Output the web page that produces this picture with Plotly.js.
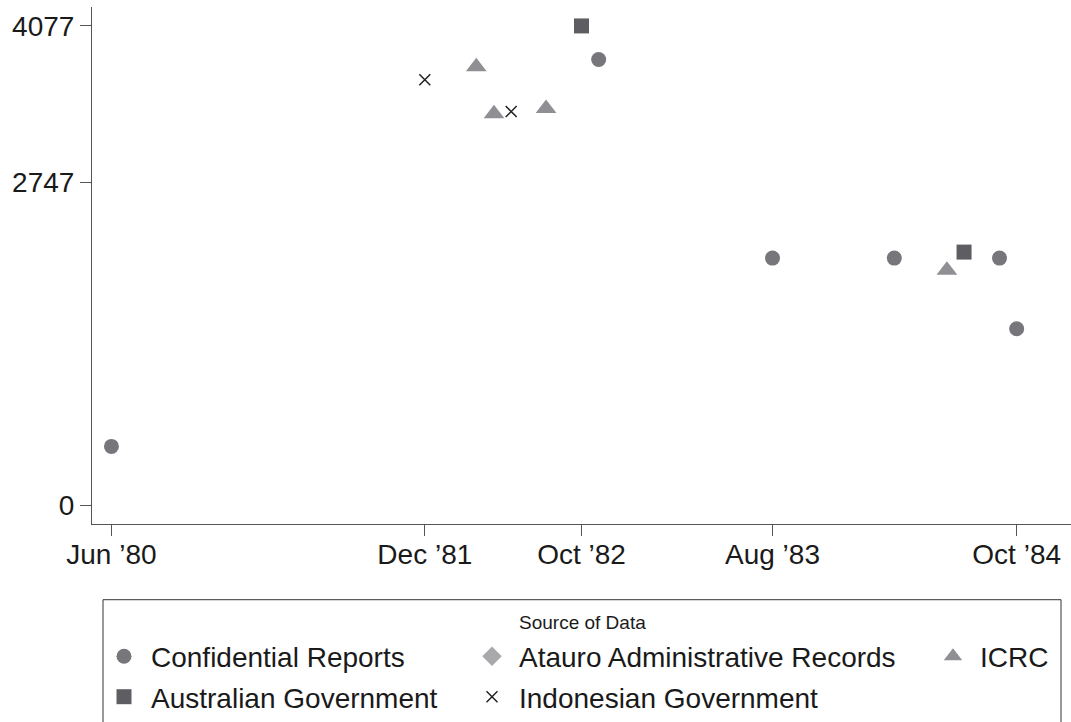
<!DOCTYPE html>
<html>
<head>
<meta charset="utf-8">
<script src="https://cdn.plot.ly/plotly-3.0.1.min.js"></script>
<style>html,body{margin:0;padding:0;background:#fff;}#chart{width:1071px;height:722px;}</style>
</head>
<body>
<div id="chart"></div>
<script>
// ---- data ----
const confDates = ['1980-06-15','1982-10-15','1983-08-15','1984-03-15','1984-09-15','1984-10-15'];
const confVals  = [502, 3791, 2103, 2103, 2103, 1502];
const atauroDates = [];   // no observations shown in the chart
const atauroVals  = [];
const icrcDates = ['1982-03-15','1982-04-15','1982-07-15','1984-06-15'];
const icrcVals  = [3730, 3330, 3375, 2000];
const ausDates = ['1982-09-15','1984-07-15'];
const ausVals  = [4077, 2154];
const indoDates = ['1981-12-15','1982-05-15'];
const indoVals  = [3620, 3349];
const tickDates = ['1980-06-15','1981-12-15','1982-09-15','1983-08-15','1984-10-15'];
const tickLabels = ['Jun \u201980','Dec \u201981','Oct \u201982','Aug \u201983','Oct \u201984'];
const yTicks = [0, 2747, 4077];

// ---- layout helpers ----
const W = 1071, H = 722, L = 92, R = 0, T = 7, B = 196;
const pw = W - L - R, ph = H - T - B;
const px = X => (X - L) / pw;
const py = Y => (H - B - Y) / ph;
const FONT = 'Liberation Sans, Arial, Helvetica, sans-serif';
const orEmpty = a => a.length ? a : [null]; // keeps legend entry for empty series

const traces = [
  {name:'Confidential Reports', x:confDates, y:confVals, legend:'legend',
   marker:{symbol:'circle', size:15, color:'#77777b'}},
  {name:'Atauro Administrative Records', x:orEmpty(atauroDates), y:orEmpty(atauroVals), legend:'legend2',
   marker:{symbol:'diamond', size:15, color:'#a9a9ac'}},
  {name:'ICRC', x:icrcDates, y:icrcVals, legend:'legend3',
   marker:{symbol:'triangle-up', size:18, color:'#909094'}},
  {name:'Australian Government', x:ausDates, y:ausVals, legend:'legend4',
   marker:{symbol:'square', size:15, color:'#5e5e62'}},
  {name:'Indonesian Government', x:indoDates, y:indoVals, legend:'legend5',
   marker:{symbol:'x-thin-open', size:11, color:'#222', line:{width:1.5, color:'#222'}}}
].map(t => Object.assign({type:'scatter', mode:'markers', showlegend:true, hoverinfo:'x+y'}, t));

function leg(symX, rowY) {
  return {x: px(symX - 27), y: py(rowY), xanchor:'left', yanchor:'middle',
          bgcolor:'rgba(0,0,0,0)', borderwidth:0, itemwidth:44,
          font:{family:FONT, size:28, color:'#1a1a1a'}, itemclick:false};
}

const layout = {
  width: W, height: H,
  margin:{l:L, r:R, t:T, b:B, pad:0},
  paper_bgcolor:'#fff', plot_bgcolor:'#fff',
  font:{family:FONT, size:28, color:'#1a1a1a'},
  showlegend:true,
  xaxis:{type:'date', range:['1980-05-12','1985-01-18'],
    tickmode:'array', tickvals:tickDates, ticktext:tickLabels,
    showgrid:false, zeroline:false, showline:true, linecolor:'#555', linewidth:1,
    ticks:'outside', ticklen:11, tickcolor:'#555', tickwidth:1, ticklabelstandoff:-6,
    tickfont:{family:FONT, size:28, color:'#1a1a1a'}},
  yaxis:{range:[-158, 4238], tickmode:'array', tickvals:yTicks,
    ticktext:yTicks.map(String),
    showgrid:false, zeroline:false, showline:true, linecolor:'#555', linewidth:1,
    ticks:'outside', ticklen:11, tickcolor:'#555', tickwidth:1,
    tickfont:{family:FONT, size:28, color:'#1a1a1a'}},
  legend: leg(124, 659),
  legend2: leg(492, 659),
  legend3: leg(953, 659),
  legend4: leg(124, 700),
  legend5: leg(492, 700),
  shapes:[{type:'rect', xref:'paper', yref:'paper',
    x0:px(103), x1:px(1061), y0:py(602), y1:py(740),
    line:{color:'#333', width:1}, fillcolor:'rgba(0,0,0,0)'}],
  annotations:[{text:'Source of Data', xref:'paper', yref:'paper',
    x:px(582), y:py(625), xanchor:'center', yanchor:'middle', showarrow:false,
    font:{family:FONT, size:19, color:'#1a1a1a'}}]
};

Plotly.newPlot('chart', traces, layout, {displayModeBar:false, staticPlot:true});
</script>
</body>
</html>
